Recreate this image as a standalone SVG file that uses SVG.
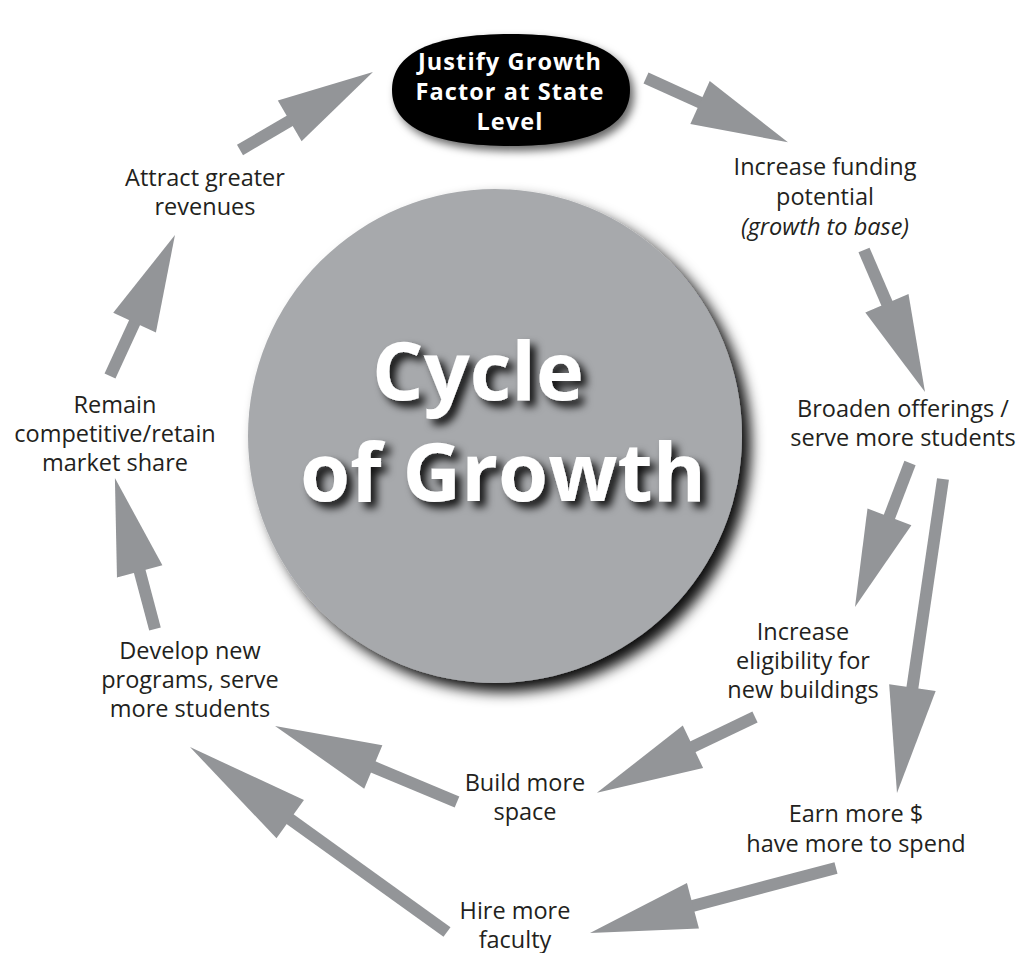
<svg xmlns="http://www.w3.org/2000/svg" width="1036" height="953" viewBox="0 0 1036 953">
  <style>
    .lbl { font-family: "Open Sans", "Liberation Sans", sans-serif; font-size: 23.5px; fill: #231f20; text-anchor: middle; }
    .it { font-style: italic; }
    .top { font-family: "Open Sans", "Liberation Sans", sans-serif; font-size: 23.5px; font-weight: bold; fill: #ffffff; text-anchor: middle; letter-spacing: 1.1px; }
    .big { font-family: "Open Sans", "Liberation Sans", sans-serif; font-size: 81px; font-weight: bold; fill: #ffffff; text-anchor: middle; letter-spacing: 0px; }
    .shaft { stroke: #939598; stroke-width: 12; stroke-linecap: butt; fill: none; }
  </style>
  <defs>
    <filter id="shCircle" x="-15%" y="-15%" width="135%" height="135%">
      <feDropShadow dx="9" dy="9" stdDeviation="7" flood-color="#000" flood-opacity="0.95"/>
    </filter>
    <filter id="shEllipse" x="-15%" y="-25%" width="135%" height="160%">
      <feDropShadow dx="4" dy="5" stdDeviation="4" flood-color="#000" flood-opacity="0.6"/>
    </filter>
    <filter id="shText" x="-10%" y="-20%" width="125%" height="150%">
      <feDropShadow dx="6" dy="6" stdDeviation="4" flood-color="#000" flood-opacity="0.9"/>
    </filter>
    <marker id="h95" markerUnits="userSpaceOnUse" viewBox="-2 -25 100 50" markerWidth="100" markerHeight="50" refX="0" refY="0" orient="auto">
      <path d="M-1.5,-23.5 L95,0 L-1.5,23.5 Z" fill="#939598"/>
    </marker>
    <marker id="h105" markerUnits="userSpaceOnUse" viewBox="-2 -25 110 50" markerWidth="110" markerHeight="50" refX="0" refY="0" orient="auto">
      <path d="M-1.5,-23.5 L105,0 L-1.5,23.5 Z" fill="#939598"/>
    </marker>
    <marker id="h122" markerUnits="userSpaceOnUse" viewBox="-2 -25 127 50" markerWidth="127" markerHeight="50" refX="0" refY="0" orient="auto">
      <path d="M-1.5,-23.5 L122,0 L-1.5,23.5 Z" fill="#939598"/>
    </marker>
  </defs>

  <rect x="0" y="0" width="1036" height="953" fill="#ffffff"/>

  <g id="center">
    <circle cx="495" cy="436" r="247" fill="#a7a9ac" filter="url(#shCircle)"/>
    <g filter="url(#shText)">
      <text class="big" x="478" y="400">Cycle</text>
      <text class="big" x="503" y="501">of Growth</text>
    </g>
  </g>

  <g id="connectors">
    <line class="shaft" x1="646" y1="78" x2="701.4" y2="103.1" marker-end="url(#h95)"/>
    <line class="shaft" x1="864" y1="250" x2="887.5" y2="304.7" marker-end="url(#h95)"/>
    <line class="shaft" x1="910" y1="463" x2="888.9" y2="518.2" marker-end="url(#h95)"/>
    <line class="shaft" x1="943" y1="479" x2="912.2" y2="689.2" marker-end="url(#h105)"/>
    <line class="shaft" x1="755" y1="717" x2="691.6" y2="747.4" marker-end="url(#h105)"/>
    <line class="shaft" x1="836" y1="868" x2="691.5" y2="906.2" marker-end="url(#h105)"/>
    <line class="shaft" x1="457" y1="802" x2="371.9" y2="766.4" marker-end="url(#h105)"/>
    <line class="shaft" x1="447" y1="932" x2="289" y2="818.3" marker-end="url(#h122)"/>
    <line class="shaft" x1="155" y1="629" x2="139.3" y2="569.9" marker-end="url(#h95)"/>
    <line class="shaft" x1="110" y1="376" x2="135.2" y2="321.3" marker-end="url(#h95)"/>
    <line class="shaft" x1="240" y1="150" x2="291" y2="120.1" marker-end="url(#h95)"/>
  </g>

  <g id="justify">
    <path d="M392,90 C392,52.7 432.5,34 511,34 C589.5,34 630,52.7 630,90 C630,127.3 589.5,146 511,146 C432.5,146 392,127.3 392,90 Z" fill="#000000" filter="url(#shEllipse)"/>
    <text class="top" x="510" y="70">Justify Growth</text>
    <text class="top" x="510" y="100">Factor at State</text>
    <text class="top" x="510" y="130">Level</text>
  </g>

  <g id="funding">
    <text class="lbl" x="825" y="175">Increase funding</text>
    <text class="lbl" x="825" y="205">potential</text>
    <text class="lbl it" x="825" y="235">(growth to base)</text>
  </g>

  <g id="broaden">
    <text class="lbl" x="903" y="417">Broaden offerings /</text>
    <text class="lbl" x="903" y="446">serve more students</text>
  </g>

  <g id="eligibility">
    <text class="lbl" x="803" y="640">Increase</text>
    <text class="lbl" x="803" y="669">eligibility for</text>
    <text class="lbl" x="803" y="698">new buildings</text>
  </g>

  <g id="earn">
    <text class="lbl" x="856" y="822">Earn more $</text>
    <text class="lbl" x="856" y="852">have more to spend</text>
  </g>

  <g id="build">
    <text class="lbl" x="525" y="791">Build more</text>
    <text class="lbl" x="525" y="820">space</text>
  </g>

  <g id="hire">
    <text class="lbl" x="515" y="919">Hire more</text>
    <text class="lbl" x="515" y="948">faculty</text>
  </g>

  <g id="develop">
    <text class="lbl" x="190" y="659">Develop new</text>
    <text class="lbl" x="190" y="688">programs, serve</text>
    <text class="lbl" x="190" y="717">more students</text>
  </g>

  <g id="remain">
    <text class="lbl" x="115" y="413">Remain</text>
    <text class="lbl" x="115" y="442">competitive/retain</text>
    <text class="lbl" x="115" y="471">market share</text>
  </g>

  <g id="attract">
    <text class="lbl" x="205" y="186">Attract greater</text>
    <text class="lbl" x="205" y="215">revenues</text>
  </g>
</svg>
